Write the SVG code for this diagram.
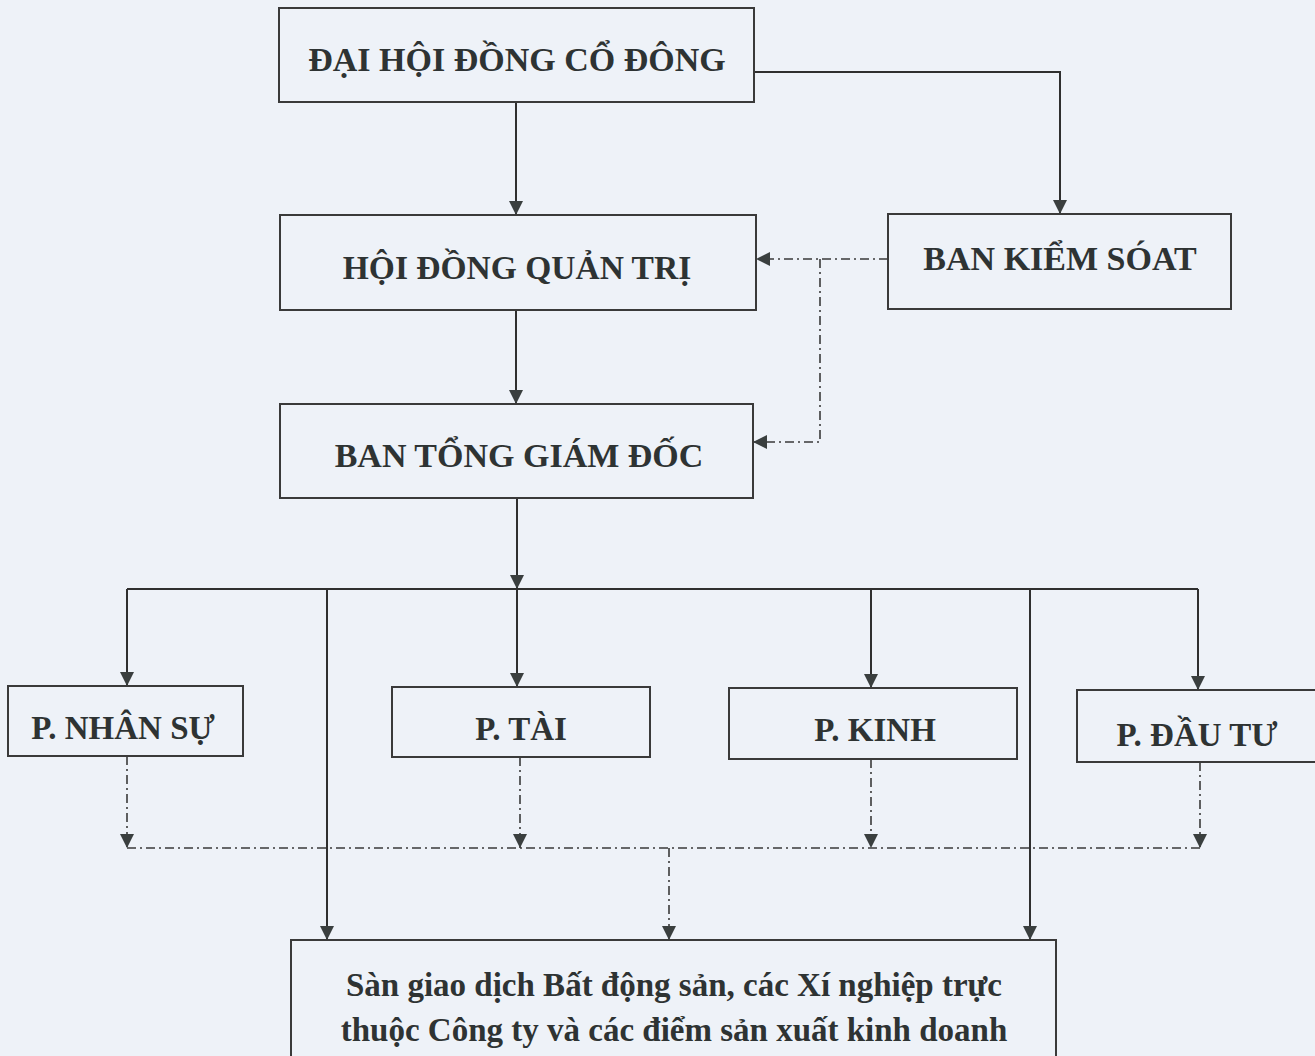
<svg xmlns="http://www.w3.org/2000/svg" width="1315" height="1056" viewBox="0 0 1315 1056">
<defs>
<marker id="arr" viewBox="0 0 14 14" refX="14" refY="7" markerWidth="14" markerHeight="14" markerUnits="userSpaceOnUse" orient="auto">
<path d="M0,0 L14,7 L0,14 Z" fill="#3a3f3f"/>
</marker>
<style>
.box{fill:none;stroke:#3a3a3a;stroke-width:2}
.t{font-family:"Liberation Serif","Times New Roman",serif;font-weight:bold;fill:#2e3333;text-anchor:middle}
.s{stroke:#2f2f2f;stroke-width:2;fill:none}
.d{stroke:#3a3a3a;stroke-width:1.6;fill:none;stroke-dasharray:9 4 2 4}
</style>
</defs>
<rect x="0" y="0" width="1315" height="1056" fill="#eef2f8"/>
<g id="connectors">
<path class="s" d="M516,102 L516,215" marker-end="url(#arr)"/>
<path class="s" d="M754,72 L1060,72 L1060,214" marker-end="url(#arr)"/>
<path class="s" d="M516,310 L516,404" marker-end="url(#arr)"/>
<path class="d" d="M888,259 L756,259" marker-end="url(#arr)"/>
<path class="d" d="M820,259 L820,442 L753,442" marker-end="url(#arr)"/>
<path class="s" d="M517,498 L517,589" marker-end="url(#arr)"/>
<path class="s" d="M127,589 L1198,589"/>
<path class="s" d="M127,589 L127,686" marker-end="url(#arr)"/>
<path class="s" d="M327,589 L327,940" marker-end="url(#arr)"/>
<path class="s" d="M517,589 L517,687" marker-end="url(#arr)"/>
<path class="s" d="M871,589 L871,688" marker-end="url(#arr)"/>
<path class="s" d="M1030,589 L1030,940" marker-end="url(#arr)"/>
<path class="s" d="M1198,589 L1198,690" marker-end="url(#arr)"/>
<path class="d" d="M127,756 L127,848" marker-end="url(#arr)"/>
<path class="d" d="M520,757 L520,848" marker-end="url(#arr)"/>
<path class="d" d="M871,759 L871,848" marker-end="url(#arr)"/>
<path class="d" d="M1200,762 L1200,848" marker-end="url(#arr)"/>
<path class="d" d="M127,848 L1200,848"/>
<path class="d" d="M669,848 L669,940" marker-end="url(#arr)"/>
</g>
<g id="dhdcd">
<rect class="box" x="279" y="8" width="475" height="94"/>
<text class="t" x="517" y="71" font-size="34">ĐẠI HỘI ĐỒNG CỔ ĐÔNG</text>
</g>
<g id="hdqt">
<rect class="box" x="280" y="215" width="476" height="95"/>
<text class="t" x="517" y="279" font-size="33.5">HỘI ĐỒNG QUẢN TRỊ</text>
</g>
<g id="bks">
<rect class="box" x="888" y="214" width="343" height="95"/>
<text class="t" x="1060" y="270" font-size="34">BAN KIỂM SÓAT</text>
</g>
<g id="btgd">
<rect class="box" x="280" y="404" width="473" height="94"/>
<text class="t" x="519" y="467" font-size="34">BAN TỔNG GIÁM ĐỐC</text>
</g>
<g id="pns">
<rect class="box" x="8" y="686" width="235" height="70"/>
<text class="t" x="123" y="739" font-size="33">P. NHÂN SỰ</text>
</g>
<g id="ptai">
<rect class="box" x="392" y="687" width="258" height="70"/>
<text class="t" x="521" y="740" font-size="33">P. TÀI</text>
</g>
<g id="pkinh">
<rect class="box" x="729" y="688" width="288" height="71"/>
<text class="t" x="875" y="741" font-size="33">P. KINH</text>
</g>
<g id="pdautu">
<rect class="box" x="1077" y="690" width="240" height="72"/>
<text class="t" x="1197" y="746" font-size="33">P. ĐẦU TƯ</text>
</g>
<g id="san">
<rect class="box" x="291" y="940" width="765" height="120"/>
<text class="t" x="674" y="996" font-size="33">Sàn giao dịch Bất động sản, các Xí nghiệp trực</text>
<text class="t" x="674" y="1041" font-size="33">thuộc Công ty và các điểm sản xuất kinh doanh</text>
</g>
</svg>
